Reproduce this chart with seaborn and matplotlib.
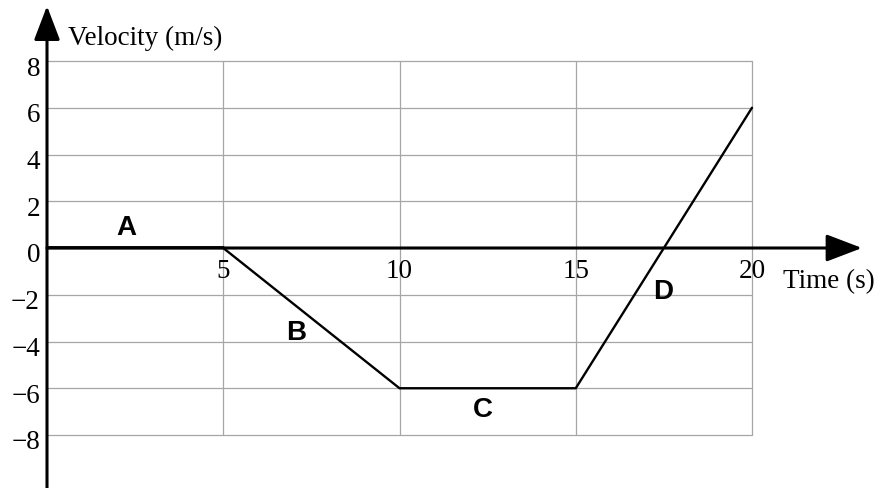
# -*- coding: utf-8 -*-

### Velocity-time graph ###

import matplotlib
matplotlib.use("Agg")
import matplotlib.pyplot as plt
import seaborn as sns

sns.set_style("white")
plt.rcParams['font.family'] = ['Liberation Serif', 'DejaVu Serif']
plt.rcParams['text.color'] = 'black'

## data ##
time = [0, 5, 10, 15, 20]
velocity = [0, 0, -6, -6, 6]
x_ticks = [5, 10, 15, 20]
y_ticks = [8, 6, 4, 2, 0, -2, -4, -6, -8]
seg_labels = ['A', 'B', 'C', 'D']
seg_pos = [(2.24, 0.9), (7.06, -3.6), (12.37, -6.9), (17.47, -1.84)]

## pixel scale of the reference ##
px_x = 35.25   # px per second
px_y = 23.375  # px per m/s

fig = plt.figure(figsize=(8.75, 4.89), dpi=100)
ax = fig.add_axes([0, 0, 1, 1])
ax.set_xlim(-47 / px_x, 828 / px_x)
ax.set_ylim(-240 / px_y, 249 / px_y)
ax.axis('off')

# grid
grid_c = '#a6a6a6'
for yv in y_ticks:
    ax.plot([0, 20], [yv, yv], color=grid_c, lw=0.9, zorder=1)
for xv in x_ticks:
    ax.plot([xv, xv], [-8, 8], color=grid_c, lw=0.9, zorder=1)

# axes with arrows
ax.annotate('', xy=(0, 242 / px_y), xytext=(0, -240 / px_y),
            arrowprops=dict(arrowstyle='-|>,head_length=1.05,head_width=0.4',
                            mutation_scale=20, lw=2.2, color='black',
                            shrinkA=0, shrinkB=0), zorder=3)
ax.annotate('', xy=(815 / px_x, 0), xytext=(0, 0),
            arrowprops=dict(arrowstyle='-|>,head_length=1.1,head_width=0.42',
                            mutation_scale=20, lw=2.2, color='black',
                            shrinkA=0, shrinkB=0), zorder=3)

# the velocity line
sns.lineplot(x=time, y=velocity, color='black', lw=1.7, ax=ax, zorder=4)
ax.plot(time[:2], [v + 0.06 for v in velocity[:2]], color='black', lw=2.0, zorder=4)

# tick labels
for yv in y_ticks:
    lab = str(yv).replace('-', '\u2212')
    ax.text(-7 / px_x, yv - 7 / px_y, lab, ha='right', va='center', fontsize=19.5)
for xv in x_ticks:
    ax.text(xv, -23 / px_y, str(xv), ha='center', va='center', fontsize=19.5)

ax.text(21 / px_x, 211 / px_y, 'Velocity (m/s)', ha='left', va='center', fontsize=19.5)
ax.text(736 / px_x, -33 / px_y, 'Time (s)', ha='left', va='center', fontsize=19.5)

for lab, (tx, ty) in zip(seg_labels, seg_pos):
    ax.text(tx, ty, lab, ha='center', va='center', fontsize=20,
            fontweight='bold', family=['Liberation Sans', 'DejaVu Sans'])

plt.savefig('out.png', dpi=100)
